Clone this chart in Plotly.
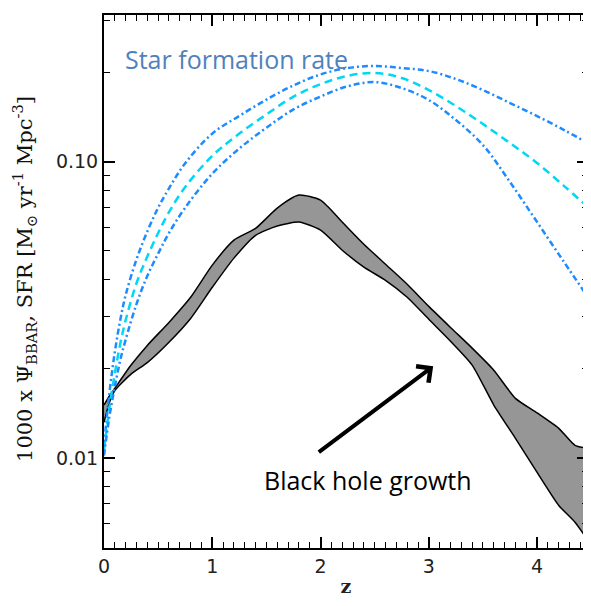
import plotly.graph_objects as go
import numpy as np

# --- data ---
z_sfr = [0, 0.05, 0.1, 0.15, 0.2, 0.3, 0.4, 0.5, 0.6, 0.75, 1.0, 1.25, 1.5, 1.75, 2.0,
         2.25, 2.5, 2.75, 3.0, 3.25, 3.5, 3.75, 4.0, 4.25, 4.47]
sfr_upper = [0.0110, 0.0166, 0.0228, 0.0292, 0.0355, 0.0468, 0.0582, 0.0700, 0.0813,
             0.0989, 0.1245, 0.1429, 0.1622, 0.1811, 0.1972, 0.2073, 0.2106, 0.2073,
             0.2025, 0.1903, 0.1746, 0.1579, 0.1427, 0.1280, 0.1156]
sfr_mid = [0.0106, 0.0148, 0.0193, 0.0243, 0.0292, 0.0389, 0.0479, 0.0575, 0.0676,
           0.0822, 0.1047, 0.1245, 0.1445, 0.1660, 0.1828, 0.1950, 0.1995, 0.1918,
           0.1746, 0.1542, 0.1341, 0.1156, 0.0990, 0.0828, 0.0703]
sfr_lower = [0.0102, 0.0138, 0.0174, 0.0214, 0.0251, 0.0331, 0.0412, 0.0490, 0.0575,
             0.0700, 0.0912, 0.1109, 0.1303, 0.1503, 0.1660, 0.1799, 0.1858, 0.1774,
             0.1616, 0.1383, 0.1139, 0.0854, 0.0626, 0.0458, 0.0349]

z_bh = [0, 0.05, 0.1, 0.25, 0.4, 0.6, 0.8, 1.0, 1.2, 1.4, 1.6, 1.8, 2.0, 2.2, 2.4,
        2.6, 2.8, 3.0, 3.2, 3.4, 3.6, 3.8, 4.0, 4.2, 4.35, 4.47]
bh_high = [0.0151, 0.0162, 0.0172, 0.0206, 0.0240, 0.0287, 0.0349, 0.0448, 0.0544,
           0.0596, 0.0698, 0.0772, 0.0742, 0.0626, 0.0527, 0.0451, 0.0386, 0.0325,
           0.0276, 0.0235, 0.0198, 0.0159, 0.0142, 0.0126, 0.01104, 0.01078]
bh_low = [0.0132, 0.0154, 0.0169, 0.0192, 0.0210, 0.0246, 0.0296, 0.0377, 0.0473,
          0.0565, 0.0607, 0.0626, 0.0588, 0.0503, 0.0441, 0.0398, 0.0349, 0.0294,
          0.0248, 0.0206, 0.0151, 0.01166, 0.00895, 0.00692, 0.00607, 0.00527]

x_ticks = [0, 1, 2, 3, 4]
y_ticks = [0.01, 0.1]
y_ticktext = ["0.01", "0.10"]

X_RANGE = [0, 4.47]
Y_RANGE = [np.log10(0.00497), np.log10(0.313)]

fig = go.Figure()

fig.add_trace(go.Scatter(x=z_bh, y=bh_low, mode="lines",
                         line=dict(color="black", width=1.5, shape="spline", smoothing=0.6),
                         showlegend=False, hoverinfo="skip"))
fig.add_trace(go.Scatter(x=z_bh, y=bh_high, mode="lines", fill="tonexty",
                         fillcolor="rgb(150,150,150)",
                         line=dict(color="black", width=1.5, shape="spline", smoothing=0.6),
                         showlegend=False, hoverinfo="skip"))

blue = "rgb(30,140,255)"
cyan = "rgb(0,215,245)"
fig.add_trace(go.Scatter(x=z_sfr, y=sfr_upper, mode="lines",
                         line=dict(color=blue, width=2.5, dash="6px,3px,2px,3px", shape="spline"),
                         showlegend=False))
fig.add_trace(go.Scatter(x=z_sfr, y=sfr_mid, mode="lines",
                         line=dict(color=cyan, width=2.5, dash="8px,5px", shape="spline"),
                         showlegend=False))
fig.add_trace(go.Scatter(x=z_sfr, y=sfr_lower, mode="lines",
                         line=dict(color=blue, width=2.5, dash="6px,3px,2px,3px", shape="spline"),
                         showlegend=False))
# invisible trace on mirror axes so they render
fig.add_trace(go.Scatter(x=[0], y=[0.05], xaxis="x2", yaxis="y2", mode="markers",
                         marker=dict(opacity=0), showlegend=False, hoverinfo="skip"))

x_minor = [round(v * 0.1, 1) for v in range(0, 45) if v % 10 != 0]
y_minor = [k * 10.0 ** e for e in (-3, -2, -1) for k in range(2, 10)]

axis_font = dict(family="DejaVu Sans", size=19, color="#222")
minor_x = dict(tickvals=x_minor, ticks="inside", ticklen=6, tickwidth=1.2,
               tickcolor="black", showgrid=False)
minor_y = dict(tickvals=y_minor, ticks="inside", ticklen=6, tickwidth=1.2,
               tickcolor="black", showgrid=False)
common = dict(ticks="inside", ticklen=11, tickwidth=1.5, tickcolor="black",
              showline=True, linecolor="black", linewidth=2, showgrid=False,
              zeroline=False, automargin=False)

# page body has an 8px default margin: figure sized/placed to compensate
fig.update_layout(
    width=583, height=598,
    margin=dict(l=96, r=3, t=7, b=58),
    paper_bgcolor="white", plot_bgcolor="white",
    xaxis=dict(range=X_RANGE, tickvals=x_ticks, tickfont=axis_font, minor=minor_x,
               title=dict(text="<b>z</b>", font=dict(family="DejaVu Serif", size=19, color="#222"),
                          standoff=4), **common),
    yaxis=dict(type="log", range=Y_RANGE, tickvals=y_ticks, ticktext=y_ticktext,
               tickfont=axis_font, minor=minor_y, **common),
    xaxis2=dict(range=X_RANGE, overlaying="x", side="top", tickvals=x_ticks,
                showticklabels=False, minor=minor_x, **common),
    yaxis2=dict(type="log", range=Y_RANGE, overlaying="y", side="right", tickvals=y_ticks,
                showticklabels=False, minor=minor_y, **common),
    annotations=[
        dict(text="1000 x Ψ<sub>BBAR</sub>, SFR [M<sub>⊙</sub> yr<sup>-1</sup> Mpc<sup>-3</sup>]",
             xref="paper", yref="paper", x=-0.165, y=0.505, xanchor="center",
             yanchor="middle", textangle=-90, showarrow=False,
             font=dict(family="DejaVu Serif", size=21, color="#111")),
        dict(text="Star formation rate", x=0.18, y=np.log10(0.222), xref="x", yref="y",
             xanchor="left", yanchor="middle", showarrow=False,
             font=dict(family="Open Sans", size=25, color="#4f81bd")),
        dict(text="Black hole growth", x=1.46, y=np.log10(0.0084), xref="x", yref="y",
             xanchor="left", yanchor="middle", showarrow=False,
             font=dict(family="Open Sans", size=25, color="black")),
        dict(x=3.04, y=np.log10(0.0204), ax=1.97, ay=np.log10(0.01038), xref="x", yref="y",
             axref="x", ayref="y", showarrow=True, arrowhead=4, arrowsize=1,
             arrowwidth=4, arrowcolor="black", text=""),
    ],
)

fig.write_html("out.html")
